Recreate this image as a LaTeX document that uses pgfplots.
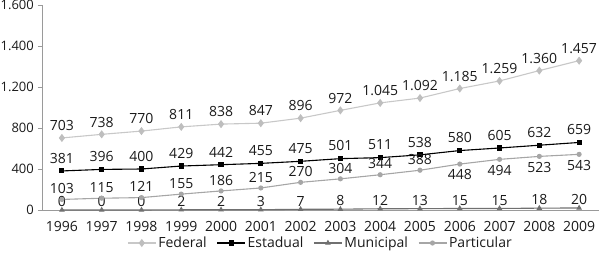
\documentclass[border=0pt]{standalone}
\usepackage{pgfplots}
\pgfplotsset{compat=1.18}
\usepackage{fontspec}
\setmainfont{Open Sans}
\definecolor{fed}{HTML}{C8C8C8}
\definecolor{fedm}{HTML}{BEBEBE}
\definecolor{mun}{HTML}{707070}
\definecolor{par}{HTML}{A6A6A6}
\definecolor{axg}{HTML}{9A9A9A}
\definecolor{txt}{HTML}{1A1A1A}
\begin{document}
\begin{tikzpicture}[x=1bp,y=1bp]
\useasboundingbox (0,0) rectangle (600,262);
\begin{axis}[
  at={(42bp,52bp)}, anchor=south west,
  scale only axis, width=557bp, height=205bp,
  xmin=-0.5, xmax=13.5, ymin=0, ymax=2000,
  axis x line*=bottom, axis y line*=left,
  axis line style={color=axg, line width=0.9bp},
  xtick={0,1,2,3,4,5,6,7,8,9,10,11,12,13},
  xticklabels={1996,1997,1998,1999,2000,2001,2002,2003,2004,2005,2006,2007,2008,2009},
  xtick style={draw=none},
  minor xtick={-0.5,0.5,1.5,2.5,3.5,4.5,5.5,6.5,7.5,8.5,9.5,10.5,11.5,12.5,13.5},
  minor tick length=5bp,
  major tick length=4bp,
  tick align=outside,
  tick style={color=axg, line width=0.8bp},
  ytick={0,400,800,1200,1600,2000},
  yticklabels={0,400,800,{1.200},{1.400},{1.600}},
  ticklabel style={font=\fontsize{14bp}{16bp}\selectfont, text=txt},
  xticklabel style={yshift=-4bp},
  yticklabel style={font=\fontsize{13bp}{15bp}\selectfont, inner sep=4bp},
  /pgf/number format/assume math mode=true,
  /pgf/number format/1000 sep={.},
  nodes near coords style={font=\fontsize{14bp}{16bp}\selectfont, text=txt, inner sep=2bp},
  legend style={draw=none, fill=none, at={(0.5,-0.161)}, anchor=center,
    legend columns=4, font=\fontsize{14bp}{16bp}\selectfont, text=txt,
    /tikz/every even column/.append style={column sep=8bp}},
  legend image code/.code={\draw[mark repeat=2,mark phase=2,#1] plot coordinates {(0bp,0bp) (14bp,0bp) (28bp,0bp)};},
  clip=false,
]
% Federal
\addplot[color=fed, line width=1.1bp, mark=diamond*, mark size=3.2bp, mark options={fill=fedm, draw=fedm},
  nodes near coords, nodes near coords style={yshift=4.5bp}]
  coordinates {(0,703)(1,738)(2,770)(3,811)(4,838)(5,847)(6,896)(7,972)(8,1045)(9,1092)(10,1185)(11,1259)(12,1360)(13,1457)};
\addlegendentry{Federal}
% Estadual
\addplot[color=black, line width=1.1bp, mark=square*, mark size=2bp,
  nodes near coords, nodes near coords style={yshift=5bp}]
  coordinates {(0,381)(1,396)(2,400)(3,429)(4,442)(5,455)(6,475)(7,501)(8,511)(9,538)(10,580)(11,605)(12,632)(13,659)};
\addlegendentry{Estadual}
% Municipal
\addplot[color=mun, line width=1.1bp, mark=triangle*, mark size=2.2bp,
  nodes near coords, nodes near coords style={yshift=0.5bp}]
  coordinates {(0,0)(1,0)(2,0)(3,2)(4,2)(5,3)(6,7)(7,8)(8,12)(9,13)(10,15)(11,15)(12,18)(13,20)};
\addlegendentry{Municipal}
% Particular
\addplot[color=par, line width=1.1bp, mark=*, mark size=2bp]
  coordinates {(0,103)(1,115)(2,121)(3,155)(4,186)(5,215)(6,270)(7,304)(8,344)(9,388)(10,448)(11,494)(12,523)(13,543)};
\addlegendentry{Particular}
\addplot[forget plot, draw=none, mark=none, nodes near coords, nodes near coords style={yshift=3.5bp}]
  coordinates {(0,103)(1,115)(2,121)(3,155)(4,186)(5,215)(6,270)(7,304)(8,344)(9,388)};
\addplot[forget plot, draw=none, mark=none, nodes near coords, nodes near coords align={below}, nodes near coords style={yshift=-3.5bp}]
  coordinates {(10,448)(11,494)(12,523)(13,543)};
\end{axis}
\end{tikzpicture}
\end{document}
